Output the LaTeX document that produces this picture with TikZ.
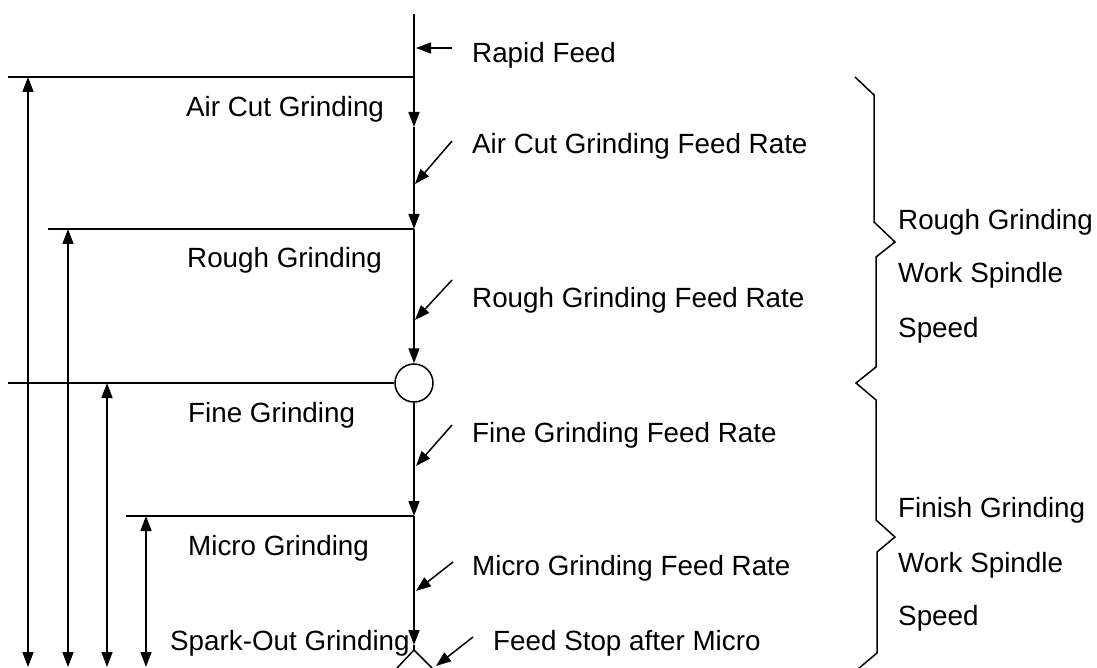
\documentclass[tikz,border=0pt]{standalone}
\usepackage{fontspec}
\setmainfont{Liberation Sans}
\usetikzlibrary{arrows.meta}
\begin{document}
\begin{tikzpicture}[x=1pt,y=-1pt,
  ln/.style={line width=1.5pt,black},
  arr/.style={ln,-{Triangle[length=15pt,width=11pt]}},
  darr/.style={ln,{Triangle[length=15pt,width=11pt]}-{Triangle[length=15pt,width=11pt]}},
  lbl/.style={anchor=base west,inner sep=0pt,font=\fontsize{27.8}{32}\selectfont}]
\useasboundingbox (0,0) rectangle (1097,668);
% main axis coordinates
\coordinate (top) at (414,14);
\coordinate (rf) at (416,48);
\coordinate (h1) at (414,77);
\coordinate (m1) at (414,127);
\coordinate (h2) at (414,229);
\node[circle,draw,line width=1.5pt,minimum size=38pt,inner sep=0pt] (c) at (414,383) {};
\coordinate (h4) at (414,516);
\coordinate (so) at (414,645);
\coordinate (x0) at (414,650);
\coordinate (xl) at (397,668);
\coordinate (xr) at (432,668);
% main line
\draw[ln] (top) -- (h1);
\draw[arr] (h1) -- (m1);
\draw[arr] (m1) -- (h2);
\draw[arr] (h2) -- (c.north);
\draw[arr] (c.south) -- (h4);
\draw[arr] (h4) -- (so);
\draw[ln] (so) -- (x0);
\draw[ln] (xl) -- (x0) -- (xr);
% pointer arrows
\coordinate (rfs) at (452,48);
\draw[arr] (rfs) -- (rf);
\coordinate (p1s) at (452,141); \coordinate (p1t) at (415,184);
\coordinate (p2s) at (452,280); \coordinate (p2t) at (415,320);
\coordinate (p3s) at (452,425); \coordinate (p3t) at (416,466);
\coordinate (p4s) at (453,562); \coordinate (p4t) at (416,591);
\coordinate (p5s) at (473,637); \coordinate (p5t) at (436,666);
\draw[arr] (p1s) -- (p1t);
\draw[arr] (p2s) -- (p2t);
\draw[arr] (p3s) -- (p3t);
\draw[arr] (p4s) -- (p4t);
\draw[arr] (p5s) -- (p5t);
% horizontal levels
\coordinate (l1) at (8,77);
\coordinate (l2) at (48,229);
\coordinate (l3) at (8,383);
\coordinate (l4) at (126,516);
\draw[ln] (l1) -- (h1);
\draw[ln] (l2) -- (h2);
\draw[ln] (l3) -- (c.west);
\draw[ln] (l4) -- (h4);
% dimension arrows
\coordinate (d1t) at (28,77);  \coordinate (d1b) at (28,667);
\coordinate (d2t) at (68,229); \coordinate (d2b) at (68,667);
\coordinate (d3t) at (107,383);\coordinate (d3b) at (107,667);
\coordinate (d4t) at (146,516);\coordinate (d4b) at (146,667);
\draw[darr] (d1t) -- (d1b);
\draw[darr] (d2t) -- (d2b);
\draw[darr] (d3t) -- (d3b);
\draw[darr] (d4t) -- (d4b);
% braces
\draw[ln] (855,77) -- (874,95) -- (874,222) -- (895,242) -- (876,257) -- (876,367)
  -- (856,383) -- (876,400) -- (876,520) -- (895,537) -- (877,552) -- (877,653) -- (858,669);
% left labels
\node[lbl] (tA) at (186,117) {Air Cut Grinding};
\node[lbl] (tR) at (187,268) {Rough Grinding};
\node[lbl] (tF) at (188,422) {Fine Grinding};
\node[lbl] (tM) at (188,555) {Micro Grinding};
\node[lbl] (tS) at (170,650) {Spark-Out Grinding};
% right labels
\node[lbl] (rA) at (472,63) {Rapid Feed};
\node[lbl] (rB) at (472,154) {Air Cut Grinding Feed Rate};
\node[lbl] (rC) at (472,307) {Rough Grinding Feed Rate};
\node[lbl] (rD) at (472,442) {Fine Grinding Feed Rate};
\node[lbl] (rE) at (472,575) {Micro Grinding Feed Rate};
\node[lbl] (rF) at (493,650) {Feed Stop after Micro};
% brace labels
\node[lbl] (b1) at (898,230) {Rough Grinding};
\node[lbl] (b2) at (898,283) {Work Spindle};
\node[lbl] (b3) at (898,337) {Speed};
\node[lbl] (b4) at (898,517) {Finish Grinding};
\node[lbl] (b5) at (898,572) {Work Spindle};
\node[lbl] (b6) at (898,625) {Speed};
\end{tikzpicture}
\end{document}
